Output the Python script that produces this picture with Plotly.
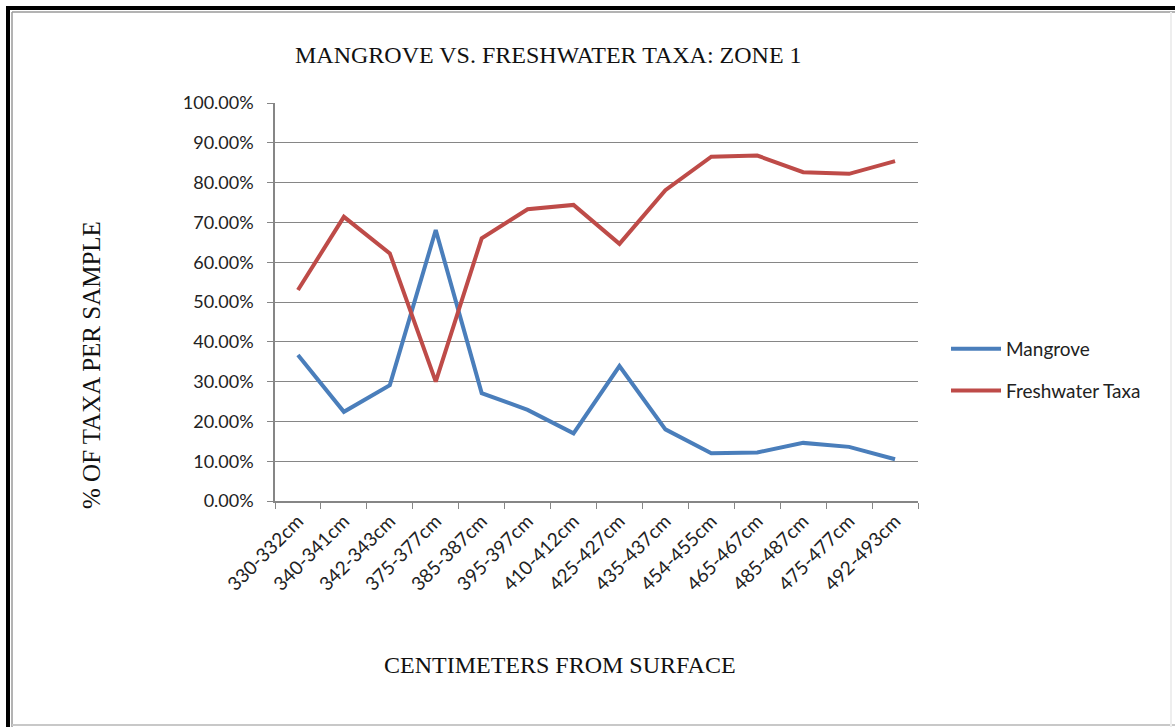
import plotly.graph_objects as go

categories = ["330-332cm", "340-341cm", "342-343cm", "375-377cm", "385-387cm",
              "395-397cm", "410-412cm", "425-427cm", "435-437cm", "454-455cm",
              "465-467cm", "485-487cm", "475-477cm", "492-493cm"]
mangrove = [0.367, 0.224, 0.291, 0.681, 0.271, 0.229, 0.170, 0.339,
            0.180, 0.120, 0.122, 0.146, 0.136, 0.105]
freshwater = [0.530, 0.714, 0.622, 0.300, 0.660, 0.733, 0.744, 0.646,
              0.781, 0.865, 0.868, 0.826, 0.822, 0.854]
y_ticks = [0, 0.1, 0.2, 0.3, 0.4, 0.5, 0.6, 0.7, 0.8, 0.9, 1.0]

W, H = 1175, 727
L, R, T, B = 275, 918, 103, 501


def px(x):
    return (x - L) / (R - L)


def py(y):
    return (B - y) / (B - T)


fig = go.Figure()
fig.add_trace(go.Scatter(x=categories, y=mangrove, mode="lines", name="Mangrove",
                         legendgroup="a", line=dict(color="#4A7EBB", width=4)))
fig.add_trace(go.Scatter(x=categories, y=freshwater, mode="lines", name="Freshwater Taxa",
                         legendgroup="b", line=dict(color="#BE4B48", width=4)))

serif = "Liberation Serif, DejaVu Serif, serif"
sans = "Lato, Open Sans, sans-serif"

shapes = [
    dict(type="rect", xref="paper", yref="paper", x0=px(6), x1=px(10), y0=py(727), y1=py(6),
         fillcolor="black", line=dict(width=0), layer="above"),
    dict(type="rect", xref="paper", yref="paper", x0=px(6), x1=px(1175), y0=py(10), y1=py(6),
         fillcolor="black", line=dict(width=0), layer="above"),
    dict(type="line", xref="paper", yref="paper", x0=px(12), x1=px(1175), y0=py(12), y1=py(12),
         line=dict(color="#9a9a9a", width=1.5)),
    dict(type="line", xref="paper", yref="paper", x0=px(12), x1=px(12), y0=py(12), y1=py(727),
         line=dict(color="#9a9a9a", width=1.5)),
    dict(type="line", xref="paper", yref="paper", x0=px(12), x1=px(1175), y0=py(725), y1=py(725),
         line=dict(color="#c8c8c8", width=2)),
    dict(type="line", xref="paper", yref="paper", x0=px(1171), x1=px(1171), y0=py(12), y1=py(727),
         line=dict(color="#eeeeee", width=2)),
]

annotations = [
    dict(text="MANGROVE VS. FRESHWATER TAXA: ZONE 1", xref="paper", yref="paper",
         x=px(548), y=py(55), xanchor="center", yanchor="middle", showarrow=False,
         font=dict(family=serif, size=24, color="#111111")),
    dict(text="% OF TAXA PER SAMPLE", xref="paper", yref="paper",
         x=px(91), y=py(365), xanchor="center", yanchor="middle", showarrow=False,
         textangle=-90, font=dict(family=serif, size=25, color="#111111")),
    dict(text="CENTIMETERS FROM SURFACE", xref="paper", yref="paper",
         x=px(560), y=py(665), xanchor="center", yanchor="middle", showarrow=False,
         font=dict(family=serif, size=24, color="#111111")),
]

fig.update_layout(
    width=W, height=H,
    margin=dict(l=L, r=W - R, t=T, b=H - B, pad=0),
    paper_bgcolor="white", plot_bgcolor="white",
    showlegend=True,
    legend=dict(x=px(946), y=py(370), xanchor="left", yanchor="middle",
                font=dict(family=sans, size=19, color="#222222"),
                bgcolor="rgba(0,0,0,0)", tracegroupgap=14, itemwidth=50),
    shapes=shapes,
    annotations=annotations,
    xaxis=dict(type="category", categoryorder="array", categoryarray=categories,
               tickangle=-45, tickson="boundaries", ticks="outside", ticklen=6,
               tickcolor="#868686", showline=True, linecolor="#868686", linewidth=1.5,
               showgrid=False, tickfont=dict(family=sans, size=19, color="#222222"),
               range=[-0.5, len(categories) - 0.5], fixedrange=True),
    yaxis=dict(range=[0, 1], tickvals=y_ticks, tickformat=".2%", ticks="outside",
               ticklen=6, tickcolor="#868686", showline=True, linecolor="#868686",
               linewidth=1.5, showgrid=True, gridcolor="#868686", gridwidth=1.2,
               zeroline=False, tickfont=dict(family=sans, size=18, color="#222222"),
               ticklabelstandoff=10, fixedrange=True),
)

fig.write_html("out.html")
